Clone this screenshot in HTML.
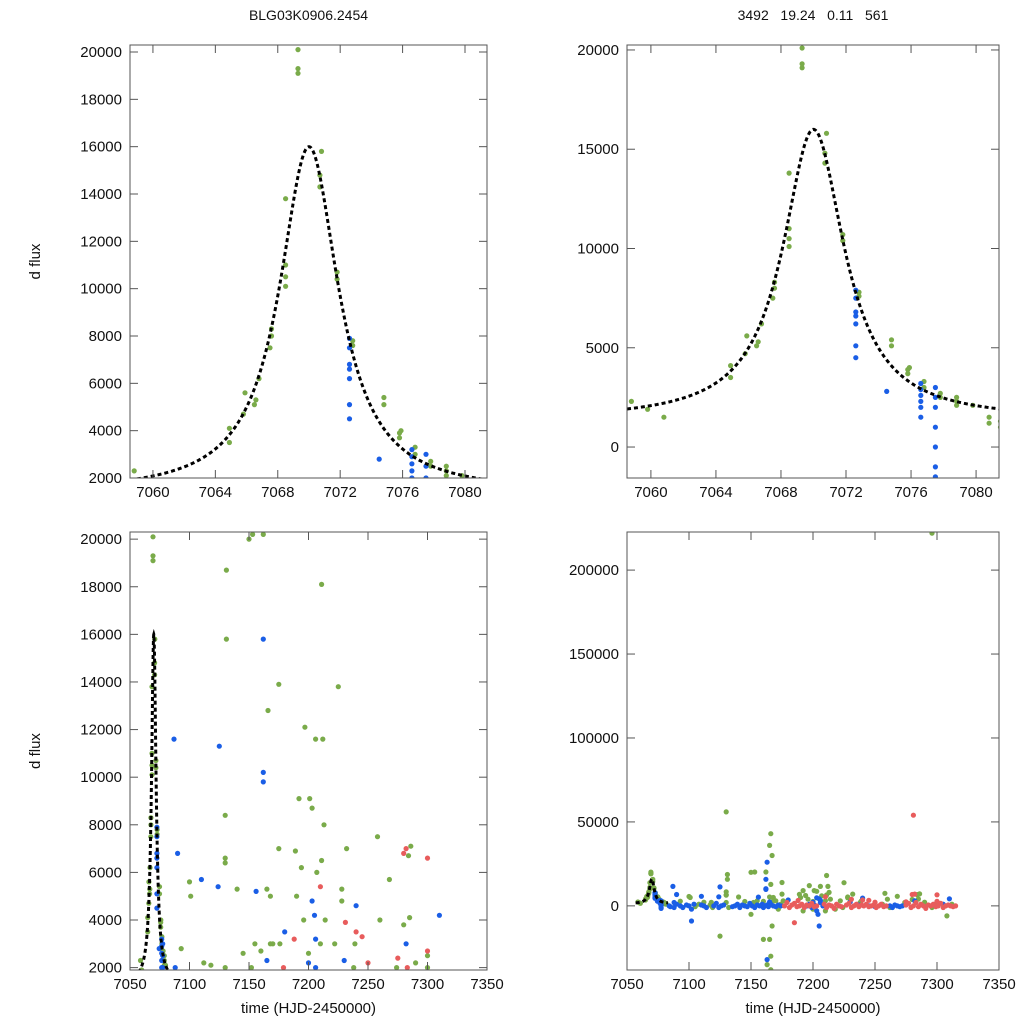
<!DOCTYPE html>
<html><head><meta charset="utf-8"><style>
html,body{margin:0;padding:0;background:#fff;width:1024px;height:1024px;overflow:hidden;}
svg{display:block;font-family:"Liberation Sans",sans-serif;}
</style></head><body>
<svg id="chart" width="1024" height="1024" xmlns="http://www.w3.org/2000/svg"></svg>
<script>
// ---- data ----
const greenT=[7058.8,7059.8,7060.8,7064.9,7064.9,7065.8,7065.9,7066.5,7066.6,7066.8,7067.5,7067.6,7067.6,7068.5,7068.5,7068.5,7068.5,7069.3,7069.3,7069.3,7070.7,7070.7,7070.8,7071.8,7071.8,7072.8,7072.8,7074.8,7074.8,7075.8,7075.8,7075.9,7076.8,7076.8,7077.8,7077.8,7078.8,7078.8,7078.8,7079.8,7080.8,7080.8,7081.5,7081.5,
7131,7131,7153,7162,7211,7175,7225,7166,7197,7206,7212,7130,7130,7130,7192,7201,7203,7213,7258,7286,7284,7232,7175,7165,7140,7100,7101,7189,7194,7211,7228,7228,7268,7210,7155,7160,7168,7200,7280,7285,7290,7093,7112,7118,7145,7239,7300,
7130,7296,7166,7165,7167,7166,7166,7163,7167,7165,7160,7125,7150,
7105,7108,7117,7119,7130,7132,7150,7152,7168,7170,7172,7174,7176,7190,7192,7196,7200,7207,7210,7214,7218,7222,7224,7238,7256,7260,7262,7274,7290,7296,7300,7308,7312];
const greenF=[2300,1900,1500,4100,3500,4700,5600,5100,5300,6200,7500,8000,8300,10100,10500,11000,13800,19100,19300,20100,14300,14800,15800,10400,10700,7600,7800,5100,5400,3700,3900,4000,3000,3300,2700,2500,2300,2500,2100,2100,1500,1200,1000,1300,
18700,15800,20200,20200,18100,13900,13800,12800,12100,11600,11600,8400,6600,6400,9100,9100,8700,8000,7500,7100,6700,7000,7000,5300,5300,5600,5000,6900,6200,6500,5300,4800,5700,3000,3000,2700,3000,2600,3800,4100,2200,2800,2200,2100,2600,3000,2500,
56000,222000,43000,36000,30000,-30000,-38000,-35000,-12000,-20000,-20000,-18000,20000,
-500,1000,500,-1000,2000,-1000,-5000,2000,5000,3000,-2000,1000,3000,5000,-3000,4000,-2000,6000,-3000,4000,-2000,3000,-1000,2000,1000,4000,-1000,2000,1000,-1000,2000,-6000,1000];
const blueT=[7072.6,7072.6,7072.6,7072.6,7072.6,7072.6,7072.6,7074.5,7076.6,7076.6,7076.6,7076.6,7076.6,7076.6,7077.5,7077.5,7077.5,7077.5,7077.5,7077.5,7077.5,
7087,7125,7162,7162,7162,7090,7110,7124,7156,7180,7203,7205,7206,7088,7240,7310,7165,7200,7230,
7163,7163,7102,7205,
7084,7085,7088,7090,7093,7095,7098,7100,7102,7104,7110,7112,7114,7120,7122,7124,7126,7128,7135,7137,7139,7141,7143,7145,7147,7149,7151,7153,7155,7157,7159,7160,7161,7163,7164,7166,7168,7170,7172,7174,7195,7197,7199,7201,7203,7204,7206,7208,7237,7245,7250,7262,7264,7266,7268,7270,7272,7282,7305];
const blueF=[7900,7500,6800,6600,6200,5100,4500,2800,3200,2900,2600,2300,2000,1500,3000,2500,2000,1000,0,-1000,-1500,
11600,11300,15800,10200,9800,6800,5700,5400,5200,3500,4800,4200,3200,2000,4600,4200,2300,2200,2300,
26000,-32000,-9000,-12000,
0,-500,-1000,1000,0,-1000,500,0,-2000,1000,500,0,-1000,0,1500,-1000,0,500,-500,0,1000,-1000,500,0,-500,1500,0,-1000,500,0,1000,-1000,0,500,-500,1000,0,-500,500,0,0,1000,-1000,500,-3000,-5000,2000,0,500,0,-500,0,-1000,500,0,-500,0,3000,1000];
const redT=[7282,7300,7280,7210,7188,7275,7231,7245,7240,7250,7300,7281,7185,
7177,7179,7181,7183,7185,7187,7189,7191,7193,7195,7197,7199,7201,7203,7209,7211,7213,7215,7217,7219,7221,7223,7227,7229,7231,7233,7235,7237,7239,7241,7243,7245,7247,7249,7251,7253,7255,7257,7259,7275,7277,7279,7281,7283,7285,7287,7289,7291,7293,7295,7297,7299,7301,7303,7305,7307,7309,7311,7313,7315];
const redF=[7000,6600,6800,5400,3200,2400,3900,3300,3500,2200,2700,54000,-10000,
0,2000,-1000,500,1500,-500,0,1000,-1000,500,0,1500,-500,0,1000,-1000,500,0,-1500,1000,0,-500,500,1500,-1000,0,1000,-500,500,0,1000,-500,0,500,-1000,0,1000,-500,0,500,1500,-1000,0,2000,-500,1000,0,-1500,500,0,1000,-500,0,1500,-1000,0,500,0,-500,0];
// model parameters
const model={t0:7070,base:1350,peak:14650,w:2.3};
const yTicksA=[2000,4000,6000,8000,10000,12000,14000,16000,18000,20000];
const yTicksB=[0,5000,10000,15000,20000];
const yTicksD=[0,50000,100000,150000,200000];
const xTicksZoom=[7060,7064,7068,7072,7076,7080];
const xTicksFull=[7050,7100,7150,7200,7250,7300,7350];

const NS="http://www.w3.org/2000/svg";
const svg=document.getElementById('chart');
function mk(tag,attrs,parent){const e=document.createElementNS(NS,tag);for(const k in attrs)e.setAttribute(k,attrs[k]);(parent||svg).appendChild(e);return e;}
const panels=[
 {id:'tl',x0:130,x1:487,y0:45,y1:478,xmin:7058.53,xmax:7081.41,ymin:2000,ymax:20296,yt:yTicksA,xt:xTicksZoom,title:'BLG03K0906.2454',ylab:true,xlab:false},
 {id:'tr',x0:627,x1:999,y0:45,y1:478,xmin:7058.53,xmax:7081.41,ymin:-1560,ymax:20250,yt:yTicksB,xt:xTicksZoom,title:'3492\u00a0\u00a0\u00a019.24\u00a0\u00a0\u00a00.11\u00a0\u00a0\u00a0561',ylab:false,xlab:false},
 {id:'bl',x0:130,x1:487,y0:532,y1:970,xmin:7050,xmax:7350,ymin:1900,ymax:20300,yt:yTicksA,xt:xTicksFull,ylab:true,xlab:true},
 {id:'br',x0:627,x1:999,y0:532,y1:970,xmin:7050,xmax:7350,ymin:-38200,ymax:222690,yt:yTicksD,xt:xTicksFull,ylab:false,xlab:true}
];
const defs=mk('defs',{});
panels.forEach(p=>{
  const sx=t=>p.x0+(t-p.xmin)/(p.xmax-p.xmin)*(p.x1-p.x0);
  const sy=v=>p.y1-(v-p.ymin)/(p.ymax-p.ymin)*(p.y1-p.y0);
  const cp=mk('clipPath',{id:'clip-'+p.id},defs);
  mk('rect',{x:p.x0,y:p.y0,width:p.x1-p.x0,height:p.y1-p.y0},cp);
  const g=mk('g',{});
  
  
  const pts=mk('g',{'clip-path':'url(#clip-'+p.id+')'},g);
  
  
  [[greenT,greenF,'#7aab4a','green'],[blueT,blueF,'#1a5ee6','blue'],[redT,redF,'#e85c5c','red']].forEach(([T,F,c,n])=>{
    for(let i=0;i<T.length;i++){
      const d=mk('circle',{cx:sx(T[i]).toFixed(1),cy:sy(F[i]).toFixed(1),r:2.6,fill:c},pts);
      
      
    }
  });
  let dstr='';
  const ta=Math.max(p.xmin,7057),tb=Math.min(p.xmax,7083);
  for(let k=0;k<=400;k++){const t=ta+(tb-ta)*k/400;const u=(t-model.t0)/model.w;const f=model.base+model.peak/(1+u*u);dstr+=(k?'L':'M')+sx(t).toFixed(2)+','+sy(f).toFixed(2);}
  const cv=mk('path',{d:dstr,fill:'none',stroke:'#000','stroke-width':3,'stroke-dasharray':'4,3'},pts);
  
  
  const fr=mk('rect',{x:p.x0,y:p.y0,width:p.x1-p.x0,height:p.y1-p.y0,fill:'none',stroke:'#555','stroke-width':1},g);
  
  
  p.yt.forEach(v=>{const y=sy(v);if(y<p.y0-1||y>p.y1+1)return;
    mk('line',{x1:p.x0,x2:p.x0+8,y1:y,y2:y,stroke:'#555'},g);
    mk('line',{x1:p.x1,x2:p.x1-8,y1:y,y2:y,stroke:'#555'},g);
    const tx=mk('text',{x:p.x0-8,y:y+5,'text-anchor':'end','font-size':15,fill:'#111'},g);
    tx.textContent=v;
    
    
  });
  p.xt.forEach(v=>{const x=sx(v);
    mk('line',{x1:x,x2:x,y1:p.y1,y2:p.y1-8,stroke:'#555'},g);
    mk('line',{x1:x,x2:x,y1:p.y0,y2:p.y0+8,stroke:'#555'},g);
    const tx=mk('text',{x:x,y:p.y1+19,'text-anchor':'middle','font-size':15,fill:'#111'},g);
    tx.textContent=v;
    
    
  });
  if(p.title){const t=mk('text',{x:(p.x0+p.x1)/2,y:20,'text-anchor':'middle','font-size':14,fill:'#111'},g);t.textContent=p.title;
    
    }
  if(p.ylab){const cy=(p.y0+p.y1)/2;const t=mk('text',{x:40,y:cy,'text-anchor':'middle','font-size':15,fill:'#111',transform:'rotate(-90 40 '+cy+')'},g);t.textContent='d flux';
    
    }
  if(p.xlab){const t=mk('text',{x:(p.x0+p.x1)/2,y:1013,'text-anchor':'middle','font-size':15,fill:'#111'},g);t.textContent='time (HJD-2450000)';
    
    }
});
</script>
</body></html>
